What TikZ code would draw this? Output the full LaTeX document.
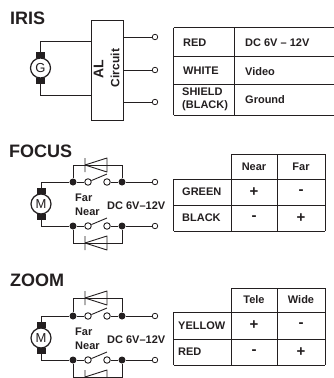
\documentclass[tikz,border=0pt]{standalone}
\usepackage{fontspec}
\setmainfont{Liberation Sans}
\definecolor{ink}{HTML}{231F20}
\usetikzlibrary{calc}
\tikzset{
	title/.style={font=\fontsize{18}{18}\selectfont\bfseries, anchor=base west, inner sep=0pt, text=ink},
	label/.style={font=\fontsize{11}{11}\selectfont\bfseries, anchor=base west, inner sep=0pt, text=ink},
	cell/.style={font=\fontsize{11}{13}\selectfont\bfseries, inner sep=0pt, text=ink, align=left},
	sign/.style={font=\fontsize{15}{15}\selectfont\bfseries, inner sep=0pt, text=ink},
	motor/.style={draw=ink, circle, fill=white, line width=1.2pt, minimum size=20pt, inner sep=0pt, font=\fontsize{13}{13}\selectfont, text=ink},
	brush/.style={fill=ink, minimum width=9pt, minimum height=6.5pt, inner sep=0pt},
	dot/.style={circle, fill=ink, minimum size=7pt, inner sep=0pt},
	pin/.style={draw=ink, circle, fill=white, line width=0.8pt, minimum size=5.5pt, inner sep=0pt},
	contact/.style={draw=ink, circle, fill=white, line width=0.9pt, minimum size=6.5pt, inner sep=0pt},
	wire/.style={draw=ink, line width=0.9pt},
	grid/.style={draw=ink, line width=0.9pt}
}
\begin{document}
\begin{tikzpicture}[x=1pt,y=-1pt]
	\useasboundingbox (0,0) rectangle (334,378);
	% iris
	\node[title] (iris) at (10,24) {IRIS};
	\node[draw=ink, line width=0.9pt, minimum width=32pt, minimum height=100pt, inner sep=0pt] (al) at (107,70) {};
	\node[font=\fontsize{14}{14}\selectfont\bfseries, rotate=90, text=ink, inner sep=0pt] (alname) at (98.5,69) {AL};
	\node[font=\fontsize{12}{12}\selectfont\bfseries, rotate=90, text=ink, inner sep=0pt] (alsub) at (115,68) {Circuit};
	\node[brush] (gtop) at (40.5,55) {};
	\node[brush] (gbot) at (40.5,81) {};
	\node[motor] (gen) at (40.5,68) {G};
	\draw[wire] (gtop.north) |- (al.west |- 0,41);
	\draw[wire] (gbot.south) |- (al.west |- 0,95);
	\foreach \y [count=\ii from 1] in {37,70,102}
	{
		\node[pin] (out\ii) at (155,\y) {};
		\draw[wire] (al.east |- out\ii) -- (out\ii);
	}
	% iris table
	\draw[grid] (173.5,27.5) -- (334,27.5) (173.5,56) -- (334,56) (173.5,84) -- (334,84) (173.5,115) -- (334,115);
	\draw[grid] (173.5,27.5) -- (173.5,115) (234,27.5) -- (234,115);
	\node[cell, anchor=west] (red) at (183,43) {RED};
	\node[cell, anchor=west] (white) at (183,71) {WHITE};
	\node[cell, anchor=west] (shield) at (182,99) {SHIELD\\(BLACK)};
	\node[cell, anchor=west] (volt) at (245,43) {DC 6V -- 12V};
	\node[cell, anchor=west] (video) at (245,72) {Video};
	\node[cell, anchor=west] (ground) at (245,99.5) {Ground};
	% focus and zoom
	\node[title] (focus) at (9,157) {FOCUS};
	\node[title] (zoom) at (10,286) {ZOOM};
	\foreach \nm/\ta/\tb/\my/\da/\db in {f/182/226/204/165/243, z/316/360/338/298/377}
	{
		\node[brush] (\nm top) at (41,\my-13) {};
		\node[brush] (\nm bot) at (41,\my+13) {};
		\node[motor] (\nm mot) at (41,\my) {M};
		\foreach \y/\k in {\ta/a,\tb/b}
		{
			\node[dot] (\nm l\k) at (73,\y) {};
			\node[dot] (\nm r\k) at (122,\y) {};
			\node[contact] (\nm s\k) at (88,\y) {};
			\node[contact] (\nm e\k) at (107,\y) {};
			\node[pin] (\nm p\k) at (155,\y) {};
			\coordinate (\nm t\k) at (107,\y-8);
			\draw[wire] (\nm l\k) -- (\nm s\k) (\nm e\k) -- (\nm r\k) -- (\nm p\k);
			\draw[wire] (\nm s\k) -- (\nm t\k);
		}
		\draw[wire] (\nm top.north) |- (\nm la);
		\draw[wire] (\nm bot.south) |- (\nm lb);
		\foreach \y/\k in {\da/a,\db/b}
		{
			\coordinate (\nm ca) at (73,\y);
			\coordinate (\nm cb) at (122,\y);
			\draw[wire] (\nm l\k) -- (\nm ca) -- (\nm cb) -- (\nm r\k);
			\draw[wire, line join=round] (85,\y-7) -- (85,\y+7) (85,\y) -- (107,\y-7) -- (107,\y+7) -- cycle;
		}
		\node[label] (\nm far) at (75,\ta+19.5) {Far};
		\node[label] (\nm near) at (75,\ta+33.5) {Near};
		\node[label] (\nm dc) at (107,\ta+27.5) {DC 6V--12V};
	}
	% focus and zoom tables
	\foreach \nm/\ya/\yb/\yc/\yd/\ca/\cb/\rowa/\rowb/\xa in {f/154/179/205/231/Near/Far/GREEN/BLACK/182, z/288/312/339/365/Tele/Wide/YELLOW/RED/178}
	{
		\draw[grid] (231,\ya) -- (325,\ya) (173.5,\yb) -- (325,\yb) (173.5,\yc) -- (325,\yc) (173.5,\yd) -- (325,\yd);
		\draw[grid] (173.5,\yb) -- (173.5,\yd) (231,\ya) -- (231,\yd) (277,\ya) -- (277,\yd) (325,\ya) -- (325,\yd);
		\node[cell] (\nm ca) at (254,{(\ya+\yb)/2}) {\ca};
		\node[cell] (\nm cb) at (301,{(\ya+\yb)/2}) {\cb};
		\node[cell, anchor=west] (\nm ra) at (\xa,{(\yb+\yc)/2}) {\rowa};
		\node[cell, anchor=west] (\nm rb) at (\xa,{(\yc+\yd)/2}) {\rowb};
		\node[sign] (\nm pa) at (254,{(\yb+\yc)/2}) {+};
		\node[sign] (\nm ma) at (301,{(\yb+\yc)/2}) {-};
		\node[sign] (\nm mb) at (254,{(\yc+\yd)/2}) {-};
		\node[sign] (\nm pb) at (301,{(\yc+\yd)/2}) {+};
	}
\end{tikzpicture}
\end{document}
